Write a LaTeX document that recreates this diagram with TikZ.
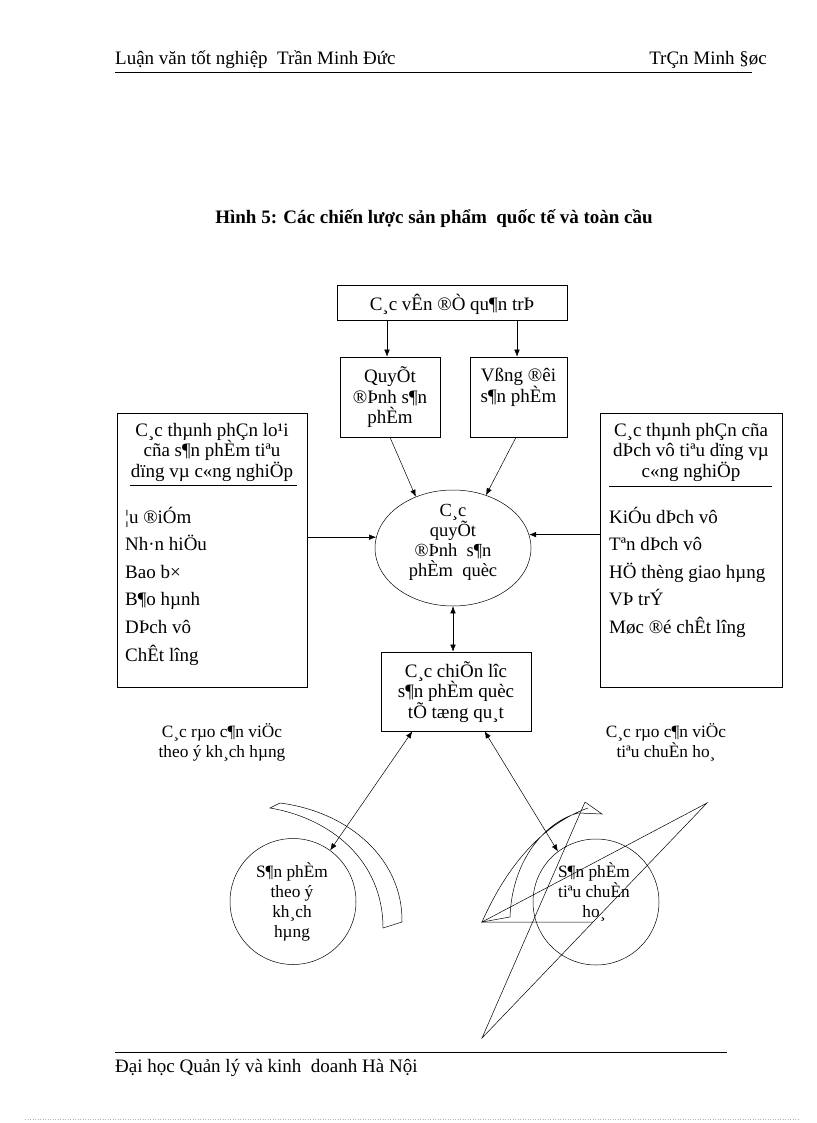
\documentclass[tikz,border=0pt]{standalone}
\usepackage{fontspec}
\setmainfont{Liberation Serif}
\usetikzlibrary{arrows.meta,shapes.geometric,calc}
\begin{document}
\begin{tikzpicture}[x=1pt,y=-1pt,
  box/.style={draw, line width=0.6pt, inner sep=0pt},
  t/.style={font=\fontsize{19}{20.5}\selectfont, align=center, inner sep=0pt},
  ts/.style={font=\fontsize{17.3}{20}\selectfont, align=center, inner sep=0pt},
  hd/.style={font=\fontsize{19}{21}\selectfont, inner sep=0pt},
  arr/.style={line width=0.5pt, -{Latex[length=7pt,width=5.5pt]}},
  arrb/.style={line width=0.5pt, {Latex[length=7pt,width=5.5pt]}-{Latex[length=7pt,width=5.5pt]}},
  ln/.style={line width=0.5pt}]
\useasboundingbox (0,0) rectangle (816,1123);
\fill[white] (0,0) rectangle (816,1123);

% header
\node[hd, anchor=base west] (hl) at (115,65) {Luận văn tốt nghiệp\ \ Trần Minh Đức};
\node[hd, anchor=base east] (hr) at (767,65) {TrÇn Minh §øc};
\draw[line width=0.8pt] (115,72) -- (752,72);

% title
\node[hd, font=\bfseries\fontsize{19}{21}\selectfont, anchor=base] (title) at (434,224)
  {Hình 5: Các chiến lược sản phẩm\ \ quốc tế và toàn cầu};

% top boxes
\node[box, minimum width=230, minimum height=35] (top) at (452,302.5) {};
\node[t] (toptxt) at (452,304) {C¸c vÊn ®Ò qu¶n trÞ};
\node[box, minimum width=100, minimum height=80] (q) at (390,397) {};
\node[t] (qtxt) at (390,397.5) {QuyÕt\\®Þnh s¶n\\phÈm};
\node[box, minimum width=97, minimum height=80] (v) at (518.5,397) {};
\node[t] (vtxt) at (518.5,387.5) {Vßng ®êi\\s¶n phÈm};
\draw[arr] (top.south -| 387,0) -- (q.north -| 387,0);
\draw[arr] (top.south -| 517,0) -- (v.north -| 517,0);

% left box
\node[box, minimum width=190, minimum height=274] (lbox) at (212,550) {};
\node[t] (lhead) at (212,452) {C¸c thµnh phÇn lo¹i\\cña s¶n phÈm tiªu\\dïng vµ\ c«ng nghiÖp};
\draw[ln] (130,485) -- (297,485);
\foreach \s [count=\i] in {¦u ®iÓm, Nh·n hiÖu, Bao b×, B¶o hµnh, DÞch vô, ChÊt lîng}
  \node[t, anchor=base west] (li\i) at (125,495.5+27.6*\i) {\s};

% right box
\node[box, minimum width=182, minimum height=274] (rbox) at (691,550) {};
\node[t] (rhead) at (691,452) {C¸c thµnh phÇn cña\\dÞch vô tiªu\ dïng vµ\\c«ng nghiÖp};
\draw[ln] (609,486) -- (772,486);
\foreach \s [count=\i] in {KiÓu dÞch vô, Tªn dÞch vô, HÖ thèng giao hµng, VÞ trÝ, Møc ®é chÊt lîng}
  \node[t, anchor=base west] (ri\i) at (609,495.5+27.6*\i) {\s};

% ellipse
\node[ellipse, draw, line width=0.5pt, minimum width=156, minimum height=116, inner sep=0pt] (e) at (453,548) {};
\node[t, font=\fontsize{18.5}{20}\selectfont] (etxt) at (453,542) {C¸c\\quyÕt\\®Þnh\ \ s¶n\\phÈm\ \ quèc};
\draw[arr] (q.south) -- (e.126);
\draw[arr] (v.south -| 516,0) -- (e.58);
\draw[arr] (lbox.east |- e.172) -- (e.172);
\draw[arr] (rbox.west |- e.10) -- (e.10);

% strategy box
\node[box, minimum width=150, minimum height=79] (c) at (456,691.5) {};
\node[t] (ctxt) at (456,692) {C¸c chiÕn lîc\\s¶n phÈm quèc\\tÕ tæng qu¸t};
\draw[arrb] (e.south) -- (e.south |- c.north);

% barrier labels
\node[ts] (bl) at (222,742) {C¸c rµo c¶n viÖc\\theo ý kh¸ch hµng};
\node[ts] (br) at (666,742) {C¸c rµo c¶n viÖc\\tiªu chuÈn ho¸};

% circles
\node[circle, draw, line width=0.5pt, minimum size=126, inner sep=0pt] (lc) at (293,901.5) {};
\node[ts] (lctxt) at (292,902) {S¶n phÈm\\theo ý\\kh¸ch\\hµng};
\node[circle, draw, line width=0.5pt, minimum size=126, inner sep=0pt] (rc) at (596,902) {};

% left band shape
\draw[ln] (270,808) .. controls (330,818) and (383,860) .. (383,928) -- (402,922)
  .. controls (403,860) and (350,812) .. (280,803) -- cycle;

% right scribble shape
\coordinate (A) at (585,802);
\coordinate (B) at (602,814);
\coordinate (L) at (482,922);
\coordinate (P) at (482,1038);
\coordinate (Q) at (707,803);
\draw[ln] (A) -- (B) -- (578,813) .. controls (545,822) and (512,860) .. (510,917) -- (L)
  .. controls (505,870) and (540,825) .. (588,808);
\draw[ln] (A) -- (P) -- (Q) -- (L) -- (593,922);

\node[ts] (rctxt) at (594,892) {S¶n phÈm\\tiªu chuÈn\\ho¸};

\draw[arrb] ($(c.south west)!0.21!(c.south east)$) -- (lc.54);
\draw[arrb] ($(c.south west)!0.69!(c.south east)$) -- (rc.127);

% footer
\draw[line width=0.8pt] (115,1052) -- (727,1052);
\node[hd, anchor=base west] (ft) at (115,1072) {Đại học Quản lý và kinh\ \ doanh Hà Nội};
\draw[gray!60, dotted, line width=0.5pt] (25,1119) -- (800,1119);
\end{tikzpicture}
\end{document}
